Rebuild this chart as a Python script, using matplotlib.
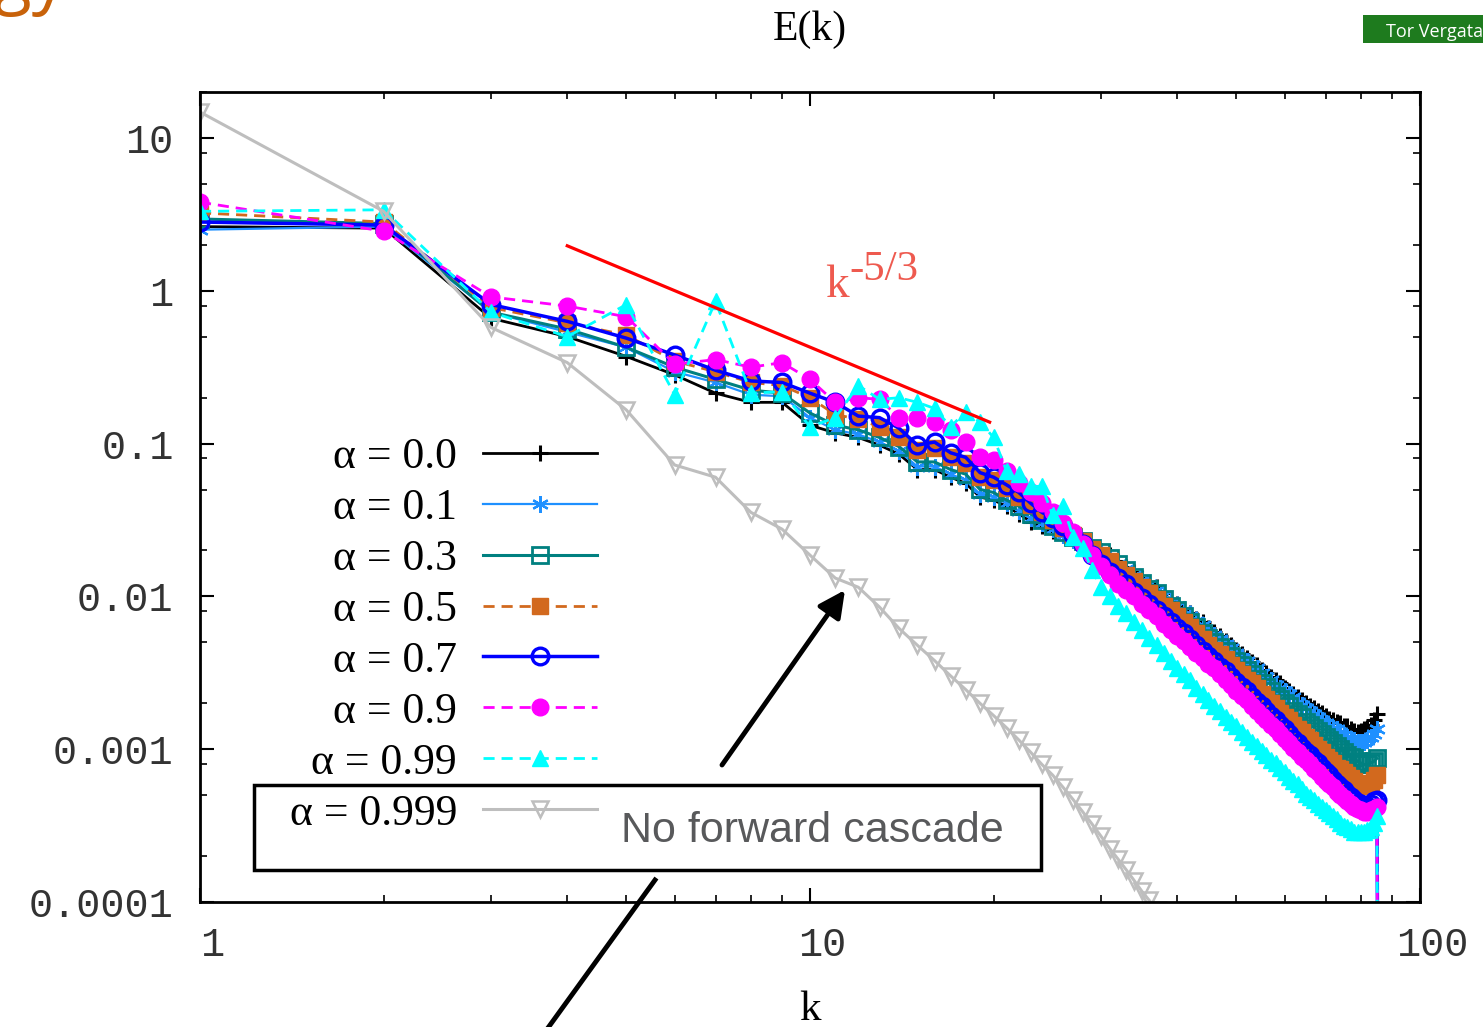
import numpy as np
import matplotlib
matplotlib.use('Agg')
import matplotlib.pyplot as plt
import matplotlib.transforms as mtrans
from matplotlib.patches import Rectangle, FancyArrowPatch
from matplotlib.lines import Line2D
from matplotlib.ticker import LogLocator, NullFormatter

# wavenumbers (integer shells)
k = np.arange(1, 86)
k_gray = np.arange(1, 41)
k_cut = 86          # spectrum falls to ~0 past the last shell
E_cut = 1e-8

# log10 E(k)
logE_00 = [0.42, 0.41, -0.18, -0.30, -0.43, -0.55, -0.67, -0.73, -0.73, -0.88,
           -0.93, -0.96, -1.01, -1.07, -1.17, -1.17, -1.22, -1.26, -1.35, -1.37,
           -1.41, -1.46, -1.51, -1.54, -1.57, -1.60, -1.63, -1.65, -1.68, -1.70,
           -1.73, -1.77, -1.81, -1.84, -1.88, -1.91, -1.94, -1.98, -2.02, -2.05,
           -2.08, -2.11, -2.15, -2.17, -2.21, -2.23, -2.26, -2.29, -2.32, -2.35,
           -2.38, -2.40, -2.43, -2.45, -2.48, -2.50, -2.53, -2.55, -2.57, -2.60,
           -2.62, -2.64, -2.66, -2.68, -2.70, -2.72, -2.73, -2.75, -2.76, -2.78,
           -2.80, -2.81, -2.82, -2.83, -2.85, -2.85, -2.87, -2.88, -2.89, -2.88,
           -2.87, -2.86, -2.84, -2.81, -2.77]
logE_01 = [0.40, 0.42, -0.14, -0.27, -0.37, -0.53, -0.60, -0.68, -0.69, -0.83,
           -0.91, -0.94, -0.99, -1.05, -1.15, -1.15, -1.20, -1.24, -1.33, -1.35,
           -1.39, -1.44, -1.49, -1.52, -1.56, -1.60, -1.63, -1.65, -1.68, -1.71,
           -1.75, -1.79, -1.82, -1.86, -1.89, -1.92, -1.96, -1.99, -2.03, -2.06,
           -2.09, -2.13, -2.16, -2.19, -2.23, -2.25, -2.28, -2.31, -2.34, -2.37,
           -2.40, -2.42, -2.45, -2.47, -2.50, -2.53, -2.55, -2.58, -2.60, -2.62,
           -2.64, -2.66, -2.69, -2.71, -2.73, -2.75, -2.77, -2.79, -2.81, -2.83,
           -2.85, -2.86, -2.87, -2.89, -2.91, -2.92, -2.93, -2.94, -2.95, -2.95,
           -2.95, -2.94, -2.92, -2.90, -2.87]
logE_03 = [0.47, 0.44, -0.14, -0.25, -0.37, -0.50, -0.58, -0.65, -0.67, -0.80,
           -0.88, -0.91, -0.96, -1.02, -1.12, -1.12, -1.17, -1.20, -1.30, -1.32,
           -1.37, -1.41, -1.46, -1.50, -1.54, -1.58, -1.61, -1.64, -1.68, -1.71,
           -1.75, -1.79, -1.83, -1.87, -1.91, -1.95, -1.98, -2.02, -2.06, -2.09,
           -2.13, -2.17, -2.20, -2.24, -2.27, -2.30, -2.33, -2.36, -2.39, -2.42,
           -2.45, -2.48, -2.51, -2.54, -2.57, -2.59, -2.62, -2.65, -2.67, -2.70,
           -2.72, -2.75, -2.77, -2.79, -2.82, -2.84, -2.86, -2.88, -2.90, -2.92,
           -2.94, -2.96, -2.98, -3.00, -3.02, -3.04, -3.05, -3.06, -3.08, -3.09,
           -3.10, -3.10, -3.09, -3.08, -3.06]
logE_05 = [0.51, 0.45, -0.11, -0.21, -0.29, -0.46, -0.53, -0.60, -0.62, -0.70,
           -0.81, -0.84, -0.89, -0.96, -1.04, -1.03, -1.09, -1.13, -1.22, -1.24,
           -1.29, -1.35, -1.40, -1.45, -1.50, -1.55, -1.60, -1.64, -1.69, -1.73,
           -1.77, -1.82, -1.86, -1.90, -1.94, -1.98, -2.02, -2.06, -2.09, -2.13,
           -2.17, -2.20, -2.24, -2.28, -2.32, -2.35, -2.38, -2.41, -2.45, -2.48,
           -2.51, -2.55, -2.57, -2.60, -2.64, -2.67, -2.70, -2.73, -2.76, -2.79,
           -2.81, -2.84, -2.87, -2.89, -2.92, -2.94, -2.97, -3.00, -3.02, -3.05,
           -3.07, -3.09, -3.12, -3.13, -3.15, -3.17, -3.19, -3.21, -3.22, -3.23,
           -3.24, -3.24, -3.23, -3.20, -3.17]
logE_07 = [0.45, 0.43, -0.09, -0.20, -0.31, -0.42, -0.52, -0.59, -0.60, -0.67,
           -0.73, -0.82, -0.83, -0.90, -1.01, -0.99, -1.06, -1.09, -1.19, -1.22,
           -1.27, -1.32, -1.39, -1.45, -1.49, -1.54, -1.60, -1.66, -1.73, -1.79,
           -1.84, -1.88, -1.92, -1.97, -2.01, -2.05, -2.09, -2.13, -2.17, -2.21,
           -2.24, -2.28, -2.32, -2.36, -2.39, -2.42, -2.46, -2.49, -2.53, -2.56,
           -2.59, -2.62, -2.66, -2.69, -2.72, -2.75, -2.78, -2.81, -2.84, -2.87,
           -2.90, -2.93, -2.96, -2.99, -3.02, -3.04, -3.07, -3.09, -3.12, -3.15,
           -3.17, -3.20, -3.23, -3.25, -3.27, -3.29, -3.31, -3.33, -3.35, -3.36,
           -3.37, -3.37, -3.36, -3.34, -3.33]
logE_09 = [0.58, 0.39, -0.04, -0.10, -0.17, -0.48, -0.45, -0.50, -0.47, -0.58,
           -0.73, -0.70, -0.71, -0.83, -0.83, -0.86, -0.91, -0.99, -1.09, -1.11,
           -1.18, -1.26, -1.32, -1.39, -1.45, -1.52, -1.58, -1.66, -1.73, -1.80,
           -1.86, -1.92, -1.96, -2.00, -2.05, -2.09, -2.13, -2.18, -2.22, -2.26,
           -2.29, -2.33, -2.37, -2.40, -2.44, -2.47, -2.51, -2.55, -2.58, -2.62,
           -2.65, -2.68, -2.72, -2.75, -2.78, -2.81, -2.84, -2.87, -2.90, -2.93,
           -2.96, -2.99, -3.02, -3.05, -3.07, -3.10, -3.13, -3.15, -3.18, -3.21,
           -3.23, -3.25, -3.28, -3.30, -3.32, -3.34, -3.36, -3.38, -3.39, -3.40,
           -3.41, -3.41, -3.40, -3.39, -3.38]
logE_099 = [0.52, 0.53, -0.14, -0.30, -0.09, -0.68, -0.07, -0.67, -0.66, -0.89,
            -0.83, -0.62, -0.71, -0.70, -0.73, -0.77, -0.89, -0.79, -0.86, -0.96,
            -1.18, -1.20, -1.28, -1.28, -1.47, -1.41, -1.61, -1.68, -1.83, -1.94,
            -2.00, -2.06, -2.11, -2.17, -2.22, -2.27, -2.32, -2.37, -2.42, -2.47,
            -2.51, -2.55, -2.60, -2.64, -2.68, -2.72, -2.75, -2.79, -2.82, -2.85,
            -2.89, -2.92, -2.95, -2.98, -3.01, -3.04, -3.07, -3.09, -3.12, -3.15,
            -3.18, -3.21, -3.23, -3.26, -3.29, -3.31, -3.33, -3.36, -3.38, -3.40,
            -3.42, -3.44, -3.46, -3.48, -3.50, -3.51, -3.52, -3.54, -3.54, -3.54,
            -3.54, -3.53, -3.51, -3.48, -3.44]
logE_0999 = [1.17, 0.52, -0.24, -0.47, -0.78, -1.14, -1.22, -1.45, -1.56, -1.73,
             -1.88, -1.94, -2.07, -2.21, -2.32, -2.42, -2.52, -2.61, -2.70, -2.78,
             -2.86, -2.94, -3.02, -3.10, -3.17, -3.25, -3.33, -3.41, -3.49, -3.57,
             -3.65, -3.72, -3.79, -3.86, -3.93, -3.99, -4.05, -4.10, -4.16, -4.21]

labels = ['α = 0.0', 'α = 0.1', 'α = 0.3', 'α = 0.5',
          'α = 0.7', 'α = 0.9', 'α = 0.99', 'α = 0.999']

# reference slope k^-5/3
ref_k = [4.0, 19.7]
ref_amp = 1.97
ref_exp = -5.0 / 3.0

ytick_vals = [1e-4, 1e-3, 1e-2, 1e-1, 1, 10]
ytick_txt = ['0.0001', '0.001', '0.01', '0.1', '1', '10']
xtick_vals = [1, 10, 100]
xtick_txt = ['1', '10', '100']

dash = (0, (4, 2.5))
series = [
    (k, logE_00, False, dict(color='black', ls='-', lw=2, marker='+', ms=12, mew=2.2)),
    (k, logE_01, False, dict(color='#1E90FF', ls='-', lw=1.6, marker=(6, 2, 0), ms=12, mew=1.6)),
    (k, logE_03, False, dict(color='#008080', ls='-', lw=2.2, marker='s', ms=11, mew=2, mfc='none')),
    (k, logE_05, False, dict(color='#D2691E', ls=dash, lw=2, marker='s', ms=11)),
    (k, logE_07, True, dict(color='#0000FF', ls='-', lw=2.5, marker='o', ms=12, mew=2.4, mfc='none')),
    (k, logE_09, True, dict(color='#FF00FF', ls=dash, lw=2, marker='o', ms=12)),
    (k, logE_099, True, dict(color='#00FFFF', ls=dash, lw=2, marker='^', ms=12)),
    (k_gray, logE_0999, False, dict(color='#BEBEBE', ls='-', lw=2.2, marker='v', ms=12, mew=1.8, mfc='none')),
]

fig = plt.figure(figsize=(14.83, 10.27), dpi=100)
ax = fig.add_axes([200 / 1483, 125 / 1027, 1220 / 1483, 810 / 1027])
ax.set_xscale('log')
ax.set_yscale('log')

for (kk, lg, drop, st), lab in zip(series, labels):
    x = list(kk)
    y = list(10.0 ** np.array(lg))
    if drop:
        x.append(k_cut)
        y.append(E_cut)
    ax.plot(x, y, label=lab, **st)

kr = np.array(ref_k)
ax.plot(kr, ref_amp * (kr / ref_k[0]) ** ref_exp, color='red', lw=2.3)

ax.set_xlim(1, 100)
ax.set_ylim(1e-4, 20)

mono = 'Liberation Mono'
ax.set_xticks(xtick_vals)
ax.set_xticklabels(xtick_txt, fontfamily=mono, fontsize=29, color='#333333')
ax.set_yticks(ytick_vals)
ax.set_yticklabels(ytick_txt, fontfamily=mono, fontsize=29, color='#333333')
ax.yaxis.set_minor_locator(LogLocator(base=10, subs=(2, 5, 8), numticks=20))
ax.xaxis.set_minor_locator(LogLocator(base=10, subs=np.arange(2, 10), numticks=20))
ax.xaxis.set_minor_formatter(NullFormatter())
ax.yaxis.set_minor_formatter(NullFormatter())
ax.tick_params(which='major', direction='in', top=True, right=True, length=10, width=1.5)
ax.tick_params(which='minor', direction='in', top=True, right=True, length=5, width=1.2)
ax.tick_params(axis='y', which='major', pad=19)
ax.tick_params(axis='x', which='major', pad=17)
for sp in ax.spines.values():
    sp.set_linewidth(2)

shift = mtrans.ScaledTranslation(12 / 100, 0, fig.dpi_scale_trans)
for t in ax.get_xticklabels():
    t.set_transform(t.get_transform() + shift)

serif = 'Liberation Serif'
fig.text(810 / 1483, 1 - 40 / 1027, 'E(k)', ha='center', va='baseline',
         fontfamily=serif, fontsize=30)
fig.text(810 / 1483, 1 - 1020 / 1027, 'k', ha='center', va='baseline',
         fontfamily=serif, fontsize=31)

# k^-5/3 label
fig.text(825 / 1483, 1 - 297 / 1027, 'k', ha='left', va='baseline',
         fontfamily=serif, fontsize=34, color='#EE5A4F')
fig.text(849 / 1483, 1 - 280 / 1027, '-5/3', ha='left', va='baseline',
         fontfamily=serif, fontsize=31, color='#EE5A4F')

# markerfirst=False right-aligns the labels against the handles
leg = ax.legend(loc='upper right', bbox_to_anchor=(597 / 1483, 1 - 437 / 1027),
                bbox_transform=fig.transFigure, frameon=False, markerfirst=False,
                numpoints=1, handlelength=2.6, handletextpad=0.6, labelspacing=0.25,
                borderpad=0, borderaxespad=0, prop={'family': serif, 'size': 31.5})

# slide overlay: box, note and arrows
fig.add_artist(Rectangle((254 / 1483, 1 - 870 / 1027), 787 / 1483, 85 / 1027,
                         transform=fig.transFigure, fill=False, lw=2.5, ec='black'))
fig.text(812 / 1483, 1 - 831 / 1027, 'No forward cascade', ha='center', va='center',
         fontfamily='Liberation Sans', fontsize=31, color='#58595B')
fig.add_artist(FancyArrowPatch((722 / 1483, 1 - 765 / 1027), (845 / 1483, 1 - 590 / 1027),
                               transform=fig.transFigure, arrowstyle='-|>',
                               mutation_scale=40, lw=3.5, color='black',
                               shrinkA=0, shrinkB=0))
fig.add_artist(Line2D([655 / 1483, 545 / 1483], [1 - 880 / 1027, 1 - 1032 / 1027],
                      transform=fig.transFigure, lw=3.5, color='black'))

# cropped slide decorations
fig.add_artist(Rectangle((1363 / 1483, 1 - 43 / 1027), 130 / 1483, 28 / 1027,
                         transform=fig.transFigure, color='#1E7B1E', lw=0))
fig.text(1386 / 1483, 1 - 37 / 1027, 'Tor Vergata', ha='left', va='baseline',
         fontfamily='Open Sans', fontsize=13, color='white')
fig.text(-6 / 1483, 1.0, 'gy', ha='left', va='baseline', fontfamily='Open Sans',
         fontsize=50, color='#C8620A')

fig.savefig('out.png', dpi=100)
